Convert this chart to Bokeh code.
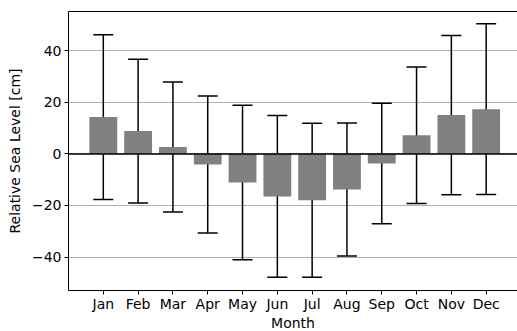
from bokeh.plotting import figure
from bokeh.models import (Range1d, FixedTicker, Whisker, TeeHead, Span,
                          ColumnDataSource, LinearAxis)
from bokeh.embed import file_html
from bokeh.resources import INLINE

months = ["Jan", "Feb", "Mar", "Apr", "May", "Jun",
          "Jul", "Aug", "Sep", "Oct", "Nov", "Dec"]
month_num = [1, 2, 3, 4, 5, 6, 7, 8, 9, 10, 11, 12]
mean_level = [14.3, 8.9, 2.7, -4.1, -11.1, -16.5, -18.0, -13.8, -3.7, 7.3, 15.1, 17.4]
std_level = [32.0, 27.9, 25.2, 26.6, 30.0, 31.4, 29.9, 25.8, 23.4, 26.5, 30.9, 33.1]
y_ticks = [-40, -20, 0, 20, 40]

upper = [m + s for m, s in zip(mean_level, std_level)]
lower = [m - s for m, s in zip(mean_level, std_level)]
src = ColumnDataSource(dict(x=month_num, top=mean_level, upper=upper, lower=lower))

FONT = "DejaVu Sans"

p = figure(frame_width=449, frame_height=279, output_backend="svg", toolbar_location=None,
           x_range=Range1d(0, 12.9), y_range=Range1d(-53, 55.3),
           min_border_left=68, min_border_right=0, min_border_top=11,
           min_border_bottom=41)
p.outline_line_color = None
p.background_fill_color = "white"
p.border_fill_color = "white"

p.vbar(x="x", top="top", bottom=0, width=0.8, source=src,
       fill_color="#808080", line_color=None)

w = Whisker(base="x", upper="upper", lower="lower", source=src,
            line_color="black", line_width=1.5,
            upper_head=TeeHead(size=20, line_color="black", line_width=1.5),
            lower_head=TeeHead(size=20, line_color="black", line_width=1.5))
p.add_layout(w)

p.add_layout(Span(location=0, dimension="width", line_color="black", line_width=1.5))

# axes
p.xaxis.ticker = FixedTicker(ticks=month_num)
p.xaxis.major_label_overrides = {m: lab for m, lab in zip(month_num, months)}
p.yaxis.ticker = FixedTicker(ticks=y_ticks)
p.yaxis.major_label_overrides = {t: (str(t).replace("-", "\u2212")) for t in y_ticks}

for ax in (p.xaxis[0], p.yaxis[0]):
    ax.axis_line_color = "black"
    ax.axis_line_width = 1
    ax.major_tick_line_color = "black"
    ax.major_tick_line_width = 1
    ax.major_tick_out = 4
    ax.major_tick_in = 0
    ax.minor_tick_line_color = None
    ax.major_label_text_font = FONT
    ax.major_label_text_font_size = "14px"
    ax.major_label_text_color = "black"
    ax.axis_label_text_font = FONT
    ax.axis_label_text_font_size = "14px"
    ax.axis_label_text_font_style = "normal"
    ax.axis_label_text_color = "black"
    ax.major_label_standoff = 3

p.xaxis.major_label_standoff = 1
p.xaxis.axis_label = "Month"
p.xaxis.axis_label_standoff = 0
p.yaxis.axis_label = "Relative Sea Level [cm]"
p.yaxis.axis_label_standoff = 6

top_ax = LinearAxis(ticker=FixedTicker(ticks=[]), axis_line_color="black",
                    axis_line_width=1, major_tick_line_color=None,
                    minor_tick_line_color=None, major_label_text_font_size="0px")
p.add_layout(top_ax, "above")

p.xgrid.grid_line_color = None
p.ygrid.grid_line_color = "#b0b0b0"
p.ygrid.grid_line_width = 1

open("out.html", "w").write(file_html(p, INLINE))
